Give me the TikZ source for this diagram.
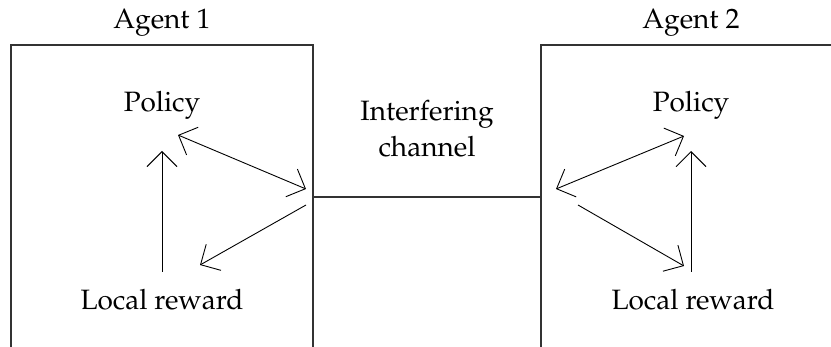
\documentclass[tikz,border=0pt]{standalone}
\usepackage[T1]{fontenc}
\usepackage{mathpazo}
\usetikzlibrary{arrows.meta}
\tikzset{
  frame/.style={draw=black!80, line width=1.1pt},
  label/.style={anchor=base, inner sep=0pt, font=\fontsize{28}{36}\selectfont},
  link/.style={draw, line width=0.9pt},
  onehead/.style={link, -{Straight Barb[length=15pt, width=30pt, line width=0.9pt]}},
  twohead/.style={link, {Straight Barb[length=15pt, width=30pt, line width=0.9pt]}-{Straight Barb[length=15pt, width=30pt, line width=0.9pt]}}
}
\begin{document}
\begin{tikzpicture}[x=1pt, y=-1pt]
  \useasboundingbox (0,0) rectangle (831,347);

  % agent frames, open at the bottom
  \draw[frame] (11,347) -- (11,45) -- (313,45) -- (313,347);
  \draw[frame] (541,347) -- (541,45) -- (831,45);

  % interfering channel between the two agents
  \coordinate (ch1) at (313,197);
  \coordinate (ch2) at (541,197);
  \draw[frame] (ch1) -- (ch2);

  % titles and labels
  \node[label] (ag1) at (162,29) {Agent 1};
  \node[label] (ag2) at (691,29) {Agent 2};
  \node[label] (pol1) at (162,112) {Policy};
  \node[label] (rew1) at (162,310) {Local reward};
  \node[label] (pol2) at (691,112) {Policy};
  \node[label] (rew2) at (693,310) {Local reward};
  \node[label] (chn) at (427,121) {Interfering};
  \node[label] (chn2) at (427,157) {channel};

  % connector end points, agent 1
  \coordinate (a1pol) at (178,135);
  \coordinate (a1hub) at (306,189);
  \coordinate (a1out) at (306,205);
  \coordinate (a1rew) at (200,265);
  \coordinate (a1up0) at (162,272);
  \coordinate (a1up1) at (162,151);

  % connector end points, agent 2
  \coordinate (a2pol) at (684,136);
  \coordinate (a2hub) at (556,189);
  \coordinate (a2out) at (578,205);
  \coordinate (a2rew) at (684,266);
  \coordinate (a2up0) at (691,272);
  \coordinate (a2up1) at (691,151);

  % agent 1 loop
  \draw[twohead] (a1pol) -- (a1hub);
  \draw[onehead] (a1out) -- (a1rew);
  \draw[onehead] (a1up0) -- (a1up1);

  % agent 2 loop
  \draw[twohead] (a2hub) -- (a2pol);
  \draw[onehead] (a2out) -- (a2rew);
  \draw[onehead] (a2up0) -- (a2up1);
\end{tikzpicture}
\end{document}
